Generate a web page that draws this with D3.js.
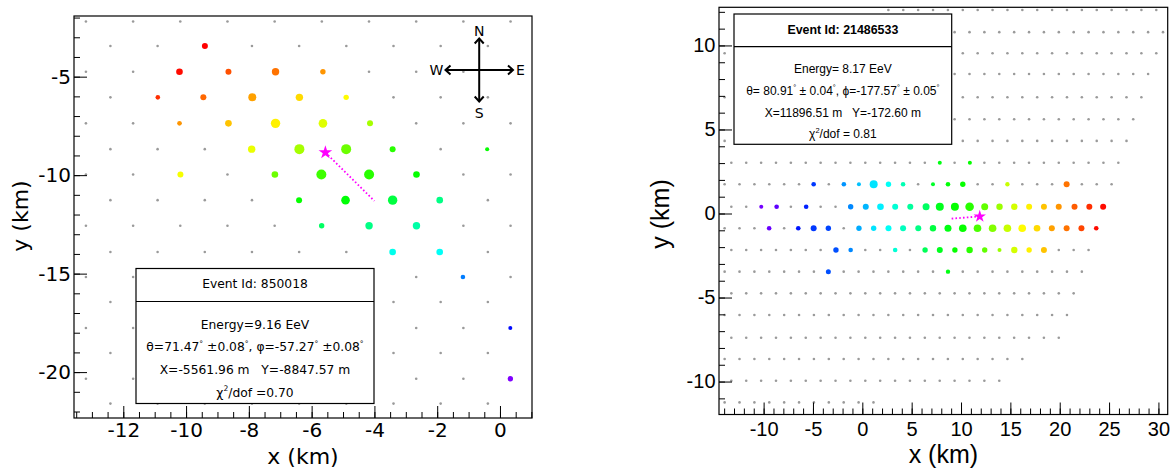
<!DOCTYPE html>
<html><head><meta charset="utf-8">
<script src="https://cdn.jsdelivr.net/npm/d3@7"></script>
<style>body{margin:0;background:#fff}svg{display:block}</style>
</head><body>
<svg id="c" width="1175" height="470"></svg>
<script>
// ---------------- LEFT EVENT (Id 850018) ----------------
const leftStationSpacing = 1.503; // km between stations in a row
const leftRowY = [-2.2,-3.44,-4.75,-6.05,-7.37,-8.68,-9.97,-11.27,-12.57,-13.9,-15.17,-16.44,-17.76,-19.03,-20.34,-21.6];
const leftRowX0 = [-13.19,-12.41,-13.19,-12.41,-13.19,-12.41,-13.19,-12.41,-13.19,-12.41,-13.19,-12.41,-13.19,-12.41,-13.19,-12.41];
const leftRowCount = [10,9,10,9,10,9,10,9,10,9,10,9,10,9,10,9];

const leftHitX = [-9.4,-10.21,-8.65,-7.15,-5.64,-10.9,-9.45,-7.89,-6.39,-4.9,-10.21,-8.65,-7.15,-5.64,-4.14,-7.91,-6.39,-4.9,-3.42,-0.41,-10.18,-7.17,-5.69,-4.17,-2.66,-6.4,-4.92,-3.42,-1.92,-5.68,-4.17,-2.66,-3.42,-1.92,-1.18,0.33,0.33];
const leftHitY = [-3.44,-4.75,-4.75,-4.75,-4.75,-6.05,-6.05,-6.05,-6.05,-6.05,-7.37,-7.37,-7.37,-7.37,-7.37,-8.68,-8.68,-8.68,-8.68,-8.68,-9.97,-9.97,-9.97,-9.97,-9.97,-11.27,-11.27,-11.27,-11.27,-12.57,-12.57,-12.57,-13.9,-13.9,-15.17,-17.76,-20.34];
const leftHitSignal = [36,44,36,55,29,21,36,64,55,29,21,44,88,74,36,55,100,100,36,16,36,44,100,100,44,36,74,88,44,29,55,55,44,44,21,16,29];
const leftHitTime = [0.00,0.01,0.07,0.10,0.13,0.04,0.09,0.14,0.19,0.22,0.13,0.17,0.21,0.25,0.30,0.24,0.30,0.35,0.41,0.44,0.23,0.35,0.39,0.41,0.44,0.44,0.45,0.50,0.56,0.53,0.56,0.59,0.65,0.66,0.78,0.88,1.00];
const leftCore = [-5.562, -8.848];
const leftAxisEnd = [-4.0, -11.31];
const leftXTicks = [-12,-10,-8,-6,-4,-2,0];
const leftYTicks = [-5,-10,-15,-20];
const leftInfo = ["Event Id: 850018","Energy=9.16 EeV","θ=71.47^° ±0.08^°, φ=-57.27^° ±0.08^°","X=-5561.96 m   Y=-8847.57 m","χ^2/dof =0.70"];

// ---------------- RIGHT EVENT (Id 21486533) ----------------
const rightStationSpacing = 1.508;
const rightRowY = [12.11,10.79,9.54,8.3,6.92,5.61,4.32,3.02,1.74,0.4,-0.88,-2.17,-3.46,-4.75,-6.04,-7.39,-8.66,-9.95,-11.24];
const rightRowX0 = [2.64,-11.76,-13.95,-11.76,-13.95,-11.76,-13.95,-13.27,-13.95,-13.27,-13.95,-13.27,-13.95,-13.27,-13.95,-13.27,-13.95,-13.27,-13.95];
const rightRowCount = [19,29,30,28,29,27,28,27,27,26,26,25,25,24,24,23,21,19,11];

const rightHitX = [7.85,10.9,
 -4.93,-1.87,-0.34,1.15,2.65,4.13,7.16,8.68,10.18,14.7,20.7,
 -10.24,-8.68,-5.69,-1.18,0.35,1.84,3.33,4.86,6.46,7.85,9.38,10.87,12.4,13.9,15.4,16.9,18.4,19.9,21.5,23.0,24.4,
 -9.44,-6.49,-4.93,-3.44,-0.34,1.15,2.65,4.13,5.67,7.16,8.68,10.18,11.67,13.2,14.7,16.2,17.7,19.2,20.7,22.2,23.7,
 -2.67,-1.18,3.33,6.36,7.85,9.38,10.87,12.4,13.9,15.4,16.9,18.4,
 -3.44,8.68];
const rightHitY = [3.02,3.02,
 1.74,1.74,1.74,1.74,1.74,1.74,1.74,1.74,1.74,1.74,1.74,
 0.4,0.4,0.4,0.4,0.4,0.4,0.4,0.4,0.4,0.4,0.4,0.4,0.4,0.4,0.4,0.4,0.4,0.4,0.4,0.4,0.4,
 -0.88,-0.88,-0.88,-0.88,-0.88,-0.88,-0.88,-0.88,-0.88,-0.88,-0.88,-0.88,-0.88,-0.88,-0.88,-0.88,-0.88,-0.88,-0.88,-0.88,-0.88,
 -2.17,-2.17,-2.17,-2.17,-2.17,-2.17,-2.17,-2.17,-2.17,-2.17,-2.17,-2.17,
 -3.46,-3.46];
const rightHitSignal = [16,16,
 21,21,16,64,29,21,16,21,29,19,36,
 16,21,21,29,36,44,36,36,49,64,64,74,49,41,41,36,36,36,36,36,36,
 21,21,36,29,29,29,36,36,36,41,49,58,58,58,58,58,44,36,36,36,21,
 29,21,21,29,36,29,41,29,16,41,29,36,
 25,19];
const rightHitTime = [0.46,0.44,
 0.84,0.76,0.72,0.69,0.66,0.60,0.48,0.45,0.44,0.27,0.10,
 0.99,0.97,0.86,0.77,0.73,0.68,0.63,0.58,0.53,0.47,0.44,0.41,0.36,0.31,0.26,0.21,0.17,0.13,0.08,0.04,0.01,
 0.98,0.87,0.84,0.83,0.74,0.69,0.66,0.61,0.56,0.50,0.46,0.44,0.38,0.33,0.27,0.22,0.19,0.14,0.10,0.06,0.01,
 0.82,0.77,0.63,0.52,0.47,0.44,0.41,0.36,0.31,0.26,0.21,0.17,
 0.82,0.46];
const rightCore = [11.897, -0.173];
const rightAxisEnd = [8.96, -0.31];
const rightXTicks = [-10,-5,0,5,10,15,20,25,30];
const rightYTicks = [10,5,0,-5,-10];
const rightInfo = ["Event Id: 21486533","Energy= 8.17 EeV","θ= 80.91^° ± 0.04^°, ϕ=-177.57^° ± 0.05^°","X=11896.51 m   Y=-172.60 m","χ^2/dof = 0.81"];

// ---------------- drawing ----------------
const svg = d3.select("#c");
const color = d3.scaleSequential(t => d3.hsl(t * 270, 1, 0.5).formatHex()).domain([0, 1]);
const radius = d3.scaleSqrt().domain([0, 100]).range([0, 5]);

function stations(rowY, rowX0, rowCount, spacing) {
  const out = [];
  rowY.forEach((y, i) => {
    d3.range(rowCount[i]).forEach(k => out.push([rowX0[i] + k * spacing, y]));
  });
  return out;
}

function richText(sel, str, size) {
  const parts = str.split(/(\^.)/).filter(s => s.length);
  let shift = 0;
  parts.forEach(p => {
    if (p[0] === "^") {
      sel.append("tspan").attr("font-size", size * 0.62).attr("dy", -size * 0.42).text(p[1]);
      shift = size * 0.42;
    } else {
      sel.append("tspan").attr("dy", shift).text(p);
      shift = 0;
    }
  });
}

function panel(cfg) {
  const { x, y, font } = cfg;
  const g = svg.append("g");
  const [x0, x1] = x.range(), [y0, y1] = y.range();

  // gray stations
  g.append("g").selectAll("circle")
    .data(stations(cfg.rowY, cfg.rowX0, cfg.rowCount, cfg.spacing))
    .join("circle")
    .attr("cx", d => x(d[0])).attr("cy", d => y(d[1]))
    .attr("r", 1.3).attr("fill", "#9a9a9a");

  // triggered stations
  const hits = cfg.hitX.map((v, i) => ({ x: v, y: cfg.hitY[i], s: cfg.hitS[i], t: cfg.hitT[i] }));
  g.append("g").selectAll("circle").data(hits).join("circle")
    .attr("cx", d => x(d.x)).attr("cy", d => y(d.y))
    .attr("r", d => radius(d.s)).attr("fill", d => color(d.t));

  // shower axis projection and core
  g.append("line")
    .attr("x1", x(cfg.core[0])).attr("y1", y(cfg.core[1]))
    .attr("x2", x(cfg.axisEnd[0])).attr("y2", y(cfg.axisEnd[1]))
    .attr("stroke", "#ff00ff").attr("stroke-width", 1.8).attr("stroke-dasharray", "1.6,2.2");
  g.append("path")
    .attr("d", d3.symbol().type(d3.symbolStar).size(cfg.starSize)())
    .attr("transform", `translate(${x(cfg.core[0])},${y(cfg.core[1])})`)
    .attr("fill", "#ff00ff");

  // info box
  const b = cfg.box;
  const bg = g.append("g");
  bg.append("rect").attr("x", b.x).attr("y", b.y).attr("width", b.w).attr("height", b.h)
    .attr("fill", "#fff").attr("stroke", "#000").attr("stroke-width", 1.2);
  bg.append("line").attr("x1", b.x).attr("x2", b.x + b.w).attr("y1", b.div).attr("y2", b.div)
    .attr("stroke", "#000").attr("stroke-width", 1.2);
  cfg.info.forEach((s, i) => {
    const t = bg.append("text").attr("x", b.x + b.w / 2).attr("y", b.lines[i])
      .attr("text-anchor", "middle").attr("font-family", b.font)
      .attr("font-size", i === 0 ? b.titleSize : b.size)
      .attr("font-weight", i === 0 && b.bold ? "bold" : "normal")
      .style("white-space", "pre").attr("fill", "#000");
    richText(t, s, i === 0 ? b.titleSize : b.size);
  });

  // axes (ROOT style: inward ticks)
  const minorX = d3.range(Math.ceil(x.domain()[0] / cfg.minorX) * cfg.minorX, x.domain()[1], cfg.minorX);
  const minorY = d3.range(Math.ceil(y.domain()[1] / cfg.minorY) * cfg.minorY, y.domain()[0], cfg.minorY);
  const fmt = d => String(d);
  const ax = g.append("g").attr("transform", `translate(0,${y1})`)
    .call(d3.axisBottom(x).tickValues(minorX).tickSize(-6).tickFormat(""));
  ax.select(".domain").remove();
  const axM = g.append("g").attr("transform", `translate(0,${y1})`)
    .call(d3.axisBottom(x).tickValues(cfg.xTicks).tickSize(-12).tickPadding(cfg.xPad).tickFormat(fmt));
  axM.select(".domain").remove();
  axM.selectAll("text").attr("font-family", font).attr("font-size", cfg.tickSize).attr("fill", "#000");
  const ay = g.append("g").attr("transform", `translate(${x0},0)`)
    .call(d3.axisLeft(y).tickValues(minorY).tickSize(-6).tickFormat(""));
  ay.select(".domain").remove();
  const ayM = g.append("g").attr("transform", `translate(${x0},0)`)
    .call(d3.axisLeft(y).tickValues(cfg.yTicks).tickSize(-13).tickPadding(cfg.yPad).tickFormat(fmt));
  ayM.select(".domain").remove();
  ayM.selectAll("text").attr("font-family", font).attr("font-size", cfg.tickSize).attr("fill", "#000");
  g.selectAll(".tick line").attr("stroke", "#000").attr("stroke-width", 1);

  // frame
  g.append("rect").attr("x", x0).attr("y", y0).attr("width", x1 - x0).attr("height", y1 - y0)
    .attr("fill", "none").attr("stroke", "#000").attr("stroke-width", 1.2);

  // titles
  g.append("text").attr("x", (x0 + x1) / 2).attr("y", cfg.xTitleY).attr("text-anchor", "middle")
    .attr("font-family", font).attr("font-size", cfg.titleSize).text("x (km)");
  g.append("text").attr("transform", `translate(${cfg.yTitleX},${cfg.yTitleCY}) rotate(-90)`)
    .attr("text-anchor", "middle").attr("font-family", font).attr("font-size", cfg.titleSize).text("y (km)");
  return g;
}

const leftX = d3.scaleLinear().domain([-13.57, 1.02]).range([74, 532]);
const leftY = d3.scaleLinear().domain([-1.92, -22.33]).range([16, 418]);
const gl = panel({
  x: leftX, y: leftY, font: "DejaVu Sans",
  rowY: leftRowY, rowX0: leftRowX0, rowCount: leftRowCount, spacing: leftStationSpacing,
  hitX: leftHitX, hitY: leftHitY, hitS: leftHitSignal, hitT: leftHitTime,
  core: leftCore, axisEnd: leftAxisEnd, starSize: 58,
  info: leftInfo,
  box: { x: 136, y: 268.5, w: 238, h: 135, div: 301.5, lines: [287.8, 329.3, 350.8, 374, 396.6],
         font: "DejaVu Sans", size: 12.3, titleSize: 12.3, bold: false },
  xTicks: leftXTicks, yTicks: leftYTicks, minorX: 0.5, minorY: 1,
  tickSize: 20, xPad: 5, yPad: 3, titleSize: 22, xTitleY: 464, yTitleX: 28, yTitleCY: 216
});

// compass
const cx = 479.2, cy = 70;
const comp = gl.append("g").attr("stroke", "#000").attr("stroke-width", 2).attr("fill", "none");
comp.append("line").attr("x1", cx).attr("x2", cx).attr("y1", 38.5).attr("y2", 101.5);
comp.append("line").attr("x1", 445.5).attr("x2", 513).attr("y1", cy).attr("y2", cy);
comp.append("polyline").attr("points", `${cx-4.5},43.5 ${cx},38.5 ${cx+4.5},43.5`);
comp.append("polyline").attr("points", `${cx-4.5},96.5 ${cx},101.5 ${cx+4.5},96.5`);
comp.append("polyline").attr("points", `450.5,${cy-4.5} 445.5,${cy} 450.5,${cy+4.5}`);
comp.append("polyline").attr("points", `508,${cy-4.5} 513,${cy} 508,${cy+4.5}`);
[["N", cx, 36], ["S", cx, 118], ["W", 436.5, 75], ["E", 520.5, 75]].forEach(([t, px, py]) =>
  gl.append("text").attr("x", px).attr("y", py).attr("text-anchor", "middle")
    .attr("font-family", "DejaVu Sans").attr("font-size", 14).text(t));

const rightX = d3.scaleLinear().domain([-14.52, 30.94]).range([719, 1167.7]);
const rightY = d3.scaleLinear().domain([12.27, -11.96]).range([7.3, 414.5]);
panel({
  x: rightX, y: rightY, font: "Liberation Sans",
  rowY: rightRowY, rowX0: rightRowX0, rowCount: rightRowCount, spacing: rightStationSpacing,
  hitX: rightHitX, hitY: rightHitY, hitS: rightHitSignal, hitT: rightHitTime,
  core: rightCore, axisEnd: rightAxisEnd, starSize: 48,
  info: rightInfo,
  box: { x: 734, y: 14, w: 217.7, h: 130.3, div: 46.7, lines: [34.3, 72.8, 95, 116.5, 138.3],
         font: "Liberation Sans", size: 12, titleSize: 12.4, bold: true },
  xTicks: rightXTicks, yTicks: rightYTicks, minorX: 1, minorY: 1,
  tickSize: 20, xPad: 7, yPad: 3.5, titleSize: 25, xTitleY: 463, yTitleX: 669, yTitleCY: 214
});
</script>
</body></html>
